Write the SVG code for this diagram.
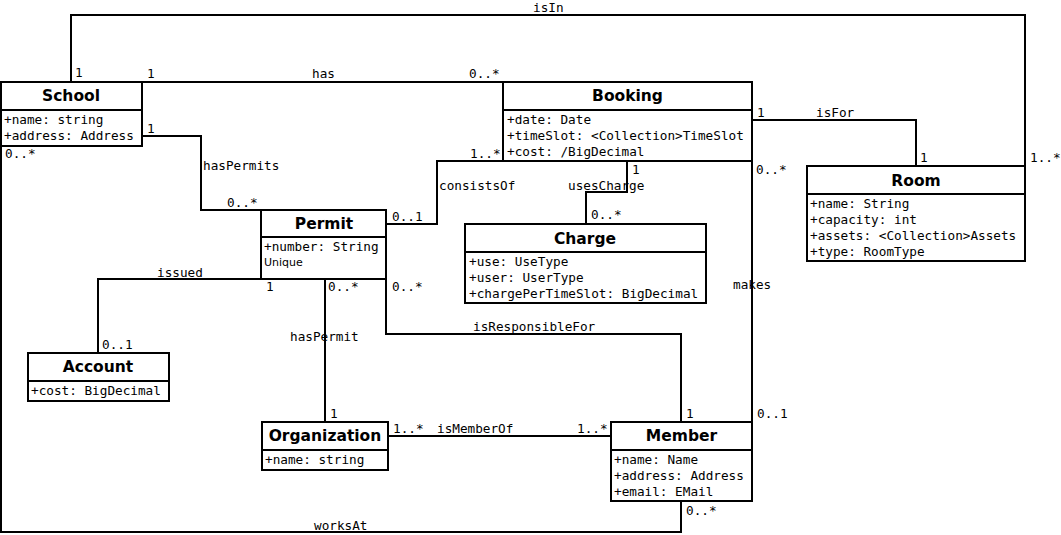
<svg xmlns="http://www.w3.org/2000/svg" width="1061" height="535" viewBox="0 0 1061 535">
<style>
.c{fill:none;stroke:#000;stroke-width:2}
.b{fill:#fff;stroke:#000;stroke-width:2}
.d{stroke:#000;stroke-width:2}
.t{font-family:"DejaVu Sans","Noto Sans",sans-serif;font-weight:bold;font-size:15.5px;text-anchor:middle;fill:#000}
.a{font-family:"DejaVu Sans Mono","Liberation Mono",monospace;font-size:12.7px;fill:#000}
.l{font-family:"DejaVu Sans Mono","Liberation Mono",monospace;font-size:12.7px;fill:#000}
.s{font-family:"DejaVu Sans","Noto Sans",sans-serif;font-size:11px;fill:#000}
</style>
<rect width="1061" height="535" fill="#fff"/>
<g id="connectors">
<polyline class="c" points="71,82 71,15 1025,15 1025,166"/>
<polyline class="c" points="142,82 503,82"/>
<polyline class="c" points="142,136 201,136 201,210 261,210"/>
<polyline class="c" points="261,279 98,279 98,353"/>
<polyline class="c" points="386,224 437,224 437,161 503,161"/>
<polyline class="c" points="627,161 627,192 586,192 586,224"/>
<polyline class="c" points="752,120 916,120 916,166"/>
<polyline class="c" points="325,279 325,422"/>
<polyline class="c" points="386,279 386,334 681,334 681,422"/>
<polyline class="c" points="752,161 752,422"/>
<polyline class="c" points="388,436 611,436"/>
<polyline class="c" points="1,146 1,532 681,532 681,501"/>
</g>
<g id="School">
<rect class="b" x="1" y="82" width="141" height="64"/>
<line class="d" x1="1" y1="110" x2="142" y2="110"/>
<text class="t" x="71" y="101">School</text>
<text class="a" x="4" y="124">+name: string</text>
<text class="a" x="4" y="140">+address: Address</text>
</g>
<g id="Booking">
<rect class="b" x="503" y="82" width="249" height="79"/>
<line class="d" x1="503" y1="110" x2="752" y2="110"/>
<text class="t" x="627.5" y="101">Booking</text>
<text class="a" x="507" y="124">+date: Date</text>
<text class="a" x="507" y="140">+timeSlot: &lt;Collection&gt;TimeSlot</text>
<text class="a" x="507" y="156">+cost: /BigDecimal</text>
</g>
<g id="Room">
<rect class="b" x="807" y="166" width="218" height="95"/>
<line class="d" x1="807" y1="194" x2="1025" y2="194"/>
<text class="t" x="916" y="186">Room</text>
<text class="a" x="810" y="208">+name: String</text>
<text class="a" x="810" y="224">+capacity: int</text>
<text class="a" x="810" y="240">+assets: &lt;Collection&gt;Assets</text>
<text class="a" x="810" y="256">+type: RoomType</text>
</g>
<g id="Permit">
<rect class="b" x="261" y="210" width="125" height="69"/>
<line class="d" x1="261" y1="237" x2="386" y2="237"/>
<text class="t" x="324" y="229">Permit</text>
<text class="a" x="264" y="251">+number: String</text>
<text class="s" x="264" y="266">Unique</text>
</g>
<g id="Charge">
<rect class="b" x="465" y="224" width="241" height="79"/>
<line class="d" x1="465" y1="252" x2="706" y2="252"/>
<text class="t" x="585" y="244">Charge</text>
<text class="a" x="469" y="266">+use: UseType</text>
<text class="a" x="469" y="282">+user: UserType</text>
<text class="a" x="469" y="298">+chargePerTimeSlot: BigDecimal</text>
</g>
<g id="Account">
<rect class="b" x="28" y="353" width="141" height="48"/>
<line class="d" x1="28" y1="381" x2="169" y2="381"/>
<text class="t" x="98" y="372">Account</text>
<text class="a" x="31" y="395">+cost: BigDecimal</text>
</g>
<g id="Organization">
<rect class="b" x="262" y="422" width="126" height="48"/>
<line class="d" x1="262" y1="450" x2="388" y2="450"/>
<text class="t" x="325" y="441">Organization</text>
<text class="a" x="265" y="464">+name: string</text>
</g>
<g id="Member">
<rect class="b" x="611" y="422" width="141" height="79"/>
<line class="d" x1="611" y1="450" x2="752" y2="450"/>
<text class="t" x="681.5" y="441">Member</text>
<text class="a" x="614" y="464">+name: Name</text>
<text class="a" x="614" y="480">+address: Address</text>
<text class="a" x="614" y="496">+email: EMail</text>
</g>
<g id="labels">
<text class="l" x="533" y="12">isIn</text>
<text class="l" x="75" y="77">1</text>
<text class="l" x="1030" y="162">1..*</text>
<text class="l" x="147" y="78">1</text>
<text class="l" x="312" y="78">has</text>
<text class="l" x="469" y="78">0..*</text>
<text class="l" x="147" y="133">1</text>
<text class="l" x="203" y="170">hasPermits</text>
<text class="l" x="227" y="207">0..*</text>
<text class="l" x="5" y="158">0..*</text>
<text class="l" x="157" y="277">issued</text>
<text class="l" x="266" y="291">1</text>
<text class="l" x="102" y="349">0..1</text>
<text class="l" x="392" y="221">0..1</text>
<text class="l" x="439" y="190">consistsOf</text>
<text class="l" x="470" y="158">1..*</text>
<text class="l" x="568" y="190">usesCharge</text>
<text class="l" x="632" y="174">1</text>
<text class="l" x="591" y="219">0..*</text>
<text class="l" x="757" y="117">1</text>
<text class="l" x="816" y="117">isFor</text>
<text class="l" x="920" y="162">1</text>
<text class="l" x="328" y="291">0..*</text>
<text class="l" x="290" y="341">hasPermit</text>
<text class="l" x="330" y="418">1</text>
<text class="l" x="392" y="291">0..*</text>
<text class="l" x="473" y="331">isResponsibleFor</text>
<text class="l" x="686" y="418">1</text>
<text class="l" x="756" y="174">0..*</text>
<text class="l" x="733" y="289">makes</text>
<text class="l" x="757" y="418">0..1</text>
<text class="l" x="393" y="433">1..*</text>
<text class="l" x="437" y="433">isMemberOf</text>
<text class="l" x="577" y="433">1..*</text>
<text class="l" x="686" y="515">0..*</text>
<text class="l" x="314" y="530">worksAt</text>
</g>
</svg>
